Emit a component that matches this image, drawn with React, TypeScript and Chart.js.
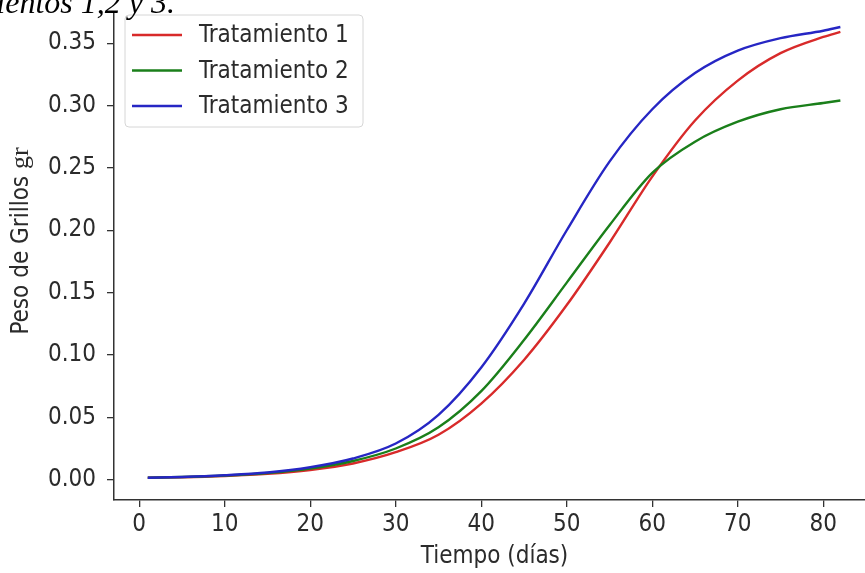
import React, { useEffect, useRef } from "react";
import { Chart, registerables } from "chart.js";

Chart.register(...registerables);

// ---- data ----
const days = [1, 5, 10, 15, 20, 25, 30, 35, 40, 45, 50, 55, 60, 65, 70, 75, 80, 82];
const tratamiento1 = [0.0016, 0.002, 0.003, 0.0047, 0.0078, 0.013, 0.022, 0.036, 0.061, 0.096, 0.14, 0.19, 0.243, 0.288, 0.32, 0.342, 0.355, 0.359];
const tratamiento2 = [0.0016, 0.0021, 0.0033, 0.0054, 0.009, 0.015, 0.025, 0.042, 0.071, 0.112, 0.158, 0.204, 0.246, 0.271, 0.287, 0.297, 0.302, 0.304];
const tratamiento3 = [0.0016, 0.0022, 0.0036, 0.0058, 0.01, 0.017, 0.029, 0.052, 0.09, 0.141, 0.2, 0.255, 0.297, 0.326, 0.344, 0.354, 0.36, 0.363];

const seriesLabels = ["Tratamiento 1", "Tratamiento 2", "Tratamiento 3"];
const seriesColors = ["#d82a2a", "#1a7f1a", "#2626c4"];

const xTicks = [0, 10, 20, 30, 40, 50, 60, 70, 80];
const yTicks = [0, 0.05, 0.1, 0.15, 0.2, 0.25, 0.3, 0.35];

const xTitle = "Tiempo (días)";
const yTitleMain = "Peso de Grillos ";
const yTitleUnit = "gr";
const caption = "tratamientos 1,2 y 3.";

const SANS = "'DejaVu Sans Condensed', 'DejaVu Sans', sans-serif";
const TEXT_COLOR = "#2b2b2b";
const AXIS_COLOR = "#333333";

const textPlugin = {
  id: "customText",
  afterDraw(chart: any) {
    const ctx = chart.ctx as CanvasRenderingContext2D;
    const area = chart.chartArea;
    ctx.save();
    ctx.fillStyle = TEXT_COLOR;
    // x title
    ctx.font = `24px ${SANS}`;
    ctx.textAlign = "center";
    ctx.textBaseline = "middle";
    ctx.fillText(xTitle, (area.left + area.right) / 2, 557);
    // y title (mixed fonts)
    ctx.translate(22, 241);
    ctx.rotate(-Math.PI / 2);
    ctx.font = `24px ${SANS}`;
    const w1 = ctx.measureText(yTitleMain).width;
    ctx.font = `26px 'Liberation Serif', 'DejaVu Serif', serif`;
    const w2 = ctx.measureText(yTitleUnit).width;
    const start = -(w1 + w2) / 2;
    ctx.textAlign = "left";
    ctx.font = `24px ${SANS}`;
    ctx.fillText(yTitleMain, start, 0);
    ctx.font = `26px 'Liberation Serif', 'DejaVu Serif', serif`;
    ctx.fillText(yTitleUnit, start + w1, -1);
    ctx.restore();

    // legend
    ctx.save();
    const bx = 125, by = 15, bw = 238, bh = 112, r = 4;
    ctx.beginPath();
    ctx.moveTo(bx + r, by);
    ctx.lineTo(bx + bw - r, by);
    ctx.quadraticCurveTo(bx + bw, by, bx + bw, by + r);
    ctx.lineTo(bx + bw, by + bh - r);
    ctx.quadraticCurveTo(bx + bw, by + bh, bx + bw - r, by + bh);
    ctx.lineTo(bx + r, by + bh);
    ctx.quadraticCurveTo(bx, by + bh, bx, by + bh - r);
    ctx.lineTo(bx, by + r);
    ctx.quadraticCurveTo(bx, by, bx + r, by);
    ctx.closePath();
    ctx.fillStyle = "rgba(255,255,255,0.85)";
    ctx.fill();
    ctx.strokeStyle = "#d6d6d6";
    ctx.lineWidth = 1;
    ctx.stroke();
    chart.data.datasets.forEach((ds: any, i: number) => {
      const y = 35 + i * 35.5;
      ctx.strokeStyle = ds.borderColor;
      ctx.lineWidth = 2.5;
      ctx.beginPath();
      ctx.moveTo(132, y);
      ctx.lineTo(182, y);
      ctx.stroke();
      ctx.fillStyle = TEXT_COLOR;
      ctx.font = `24px ${SANS}`;
      ctx.textAlign = "left";
      ctx.textBaseline = "middle";
      ctx.fillText(ds.label, 199, y + 1);
    });
    ctx.restore();
  },
};

export default function App() {
  const ref = useRef<HTMLCanvasElement | null>(null);
  useEffect(() => {
    if (!ref.current) return;
    const series = [tratamiento1, tratamiento2, tratamiento3];
    const chart = new Chart(ref.current, {
      type: "line",
      data: {
        datasets: series.map((vals, i) => ({
          label: seriesLabels[i],
          data: days.map((d, j) => ({ x: d, y: vals[j] })),
          borderColor: seriesColors[i],
          backgroundColor: seriesColors[i],
          borderWidth: 2.4,
          pointRadius: 0,
          fill: false,
          cubicInterpolationMode: "monotone" as const,
          order: 2 - i,
        })),
      },
      options: {
        responsive: false,
        animation: false,
        layout: { padding: { left: 0, top: 12, right: 25, bottom: 0 } },
        plugins: { legend: { display: false }, tooltip: { enabled: false }, title: { display: false } },
        scales: {
          x: {
            type: "linear",
            min: -2.95,
            max: 86.05,
            afterBuildTicks: (scale: any) => {
              scale.ticks = xTicks.map((v) => ({ value: v }));
            },
            afterFit: (scale: any) => {
              scale.height = 73;
              scale.paddingLeft = 0;
              scale.paddingRight = 0;
            },
            grid: { display: true, drawOnChartArea: false, drawTicks: true, tickLength: 7, color: AXIS_COLOR, lineWidth: 1.3 },
            border: { display: true, color: AXIS_COLOR, width: 1.5 },
            ticks: {
              color: TEXT_COLOR,
              font: { family: SANS, size: 24 },
              padding: 3,
              maxRotation: 0,
              autoSkip: false,
              callback: (v: any) => String(v),
            },
          },
          y: {
            type: "linear",
            min: -0.0163,
            max: 0.375,
            afterBuildTicks: (scale: any) => {
              scale.ticks = yTicks.map((v) => ({ value: v }));
            },
            afterFit: (scale: any) => {
              scale.width = 114;
              scale.paddingTop = 0;
              scale.paddingBottom = 0;
            },
            grid: { display: true, drawOnChartArea: false, drawTicks: true, tickLength: 7, color: AXIS_COLOR, lineWidth: 1.3 },
            border: { display: true, color: AXIS_COLOR, width: 1.5 },
            ticks: {
              color: TEXT_COLOR,
              font: { family: SANS, size: 24 },
              padding: 11,
              autoSkip: false,
              callback: (v: any) => Number(v).toFixed(2),
            },
          },
        },
      },
      plugins: [textPlugin],
    });
    return () => chart.destroy();
  }, []);

  return (
    <div
      style={{
        position: "absolute",
        left: 0,
        top: 0,
        width: 865,
        height: 573,
        overflow: "hidden",
        background: "#ffffff",
      }}
    >
      <canvas ref={ref} width={900} height={573} style={{ position: "absolute", left: 0, top: 0, width: 900, height: 573 }} />
      <div
        style={{
          position: "absolute",
          right: 865 - 175,
          top: -14,
          fontFamily: "'Liberation Serif', 'Times New Roman', serif",
          fontStyle: "italic",
          fontSize: 32,
          lineHeight: "32px",
          whiteSpace: "nowrap",
          color: "#000",
        }}
      >
        {caption}
      </div>
    </div>
  );
}
